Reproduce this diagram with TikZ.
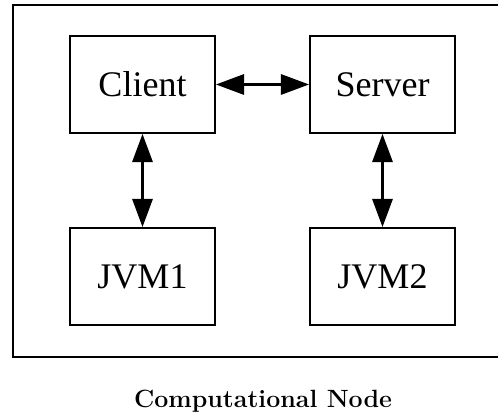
\documentclass[tikz,border=0pt]{standalone}
\usepackage{fontspec}
\newfontfamily\boxfont{Liberation Serif}
\usetikzlibrary{arrows.meta}

\begin{document}
\begin{tikzpicture}[x = 0.02cm, y = -0.02cm, font=\boxfont]
	\tikzstyle{procStyle}=[shape = rectangle, minimum width = 2.9cm, minimum height = 1.94cm, inner sep = 0pt, line width = 1.1pt, draw, font = \boxfont\fontsize{20.5}{24}\selectfont]
	\tikzstyle{linkStyle}=[line width = 1.4pt, {Triangle[length=16pt, width=11.5pt]}-{Triangle[length=16pt, width=11.5pt]}]
	\tikzstyle{clusterStyle}=[line width = 1.1pt]
	\useasboundingbox (0,0) rectangle (498,418);
	% cluster frame (runs past the right edge)
	\draw[clusterStyle] (13,5) rectangle (520,357);
	\node[style = procStyle] (client) at (142.5, 84.5) {Client};
	\node[style = procStyle] (server) at (382.5, 84.5) {Server};
	\node[style = procStyle] (jvm1) at (142.5, 276.5) {JVM1};
	\node[style = procStyle] (jvm2) at (382.5, 276.5) {JVM2};
	\node[font = \rmfamily\bfseries\fontsize{14.2}{17}\selectfont] (caption) at (263, 401) {Computational Node};
	\draw[style = linkStyle] (client) -- (server);
	\draw[style = linkStyle] (client) -- (jvm1);
	\draw[style = linkStyle] (server) -- (jvm2);
\end{tikzpicture}
\end{document}
